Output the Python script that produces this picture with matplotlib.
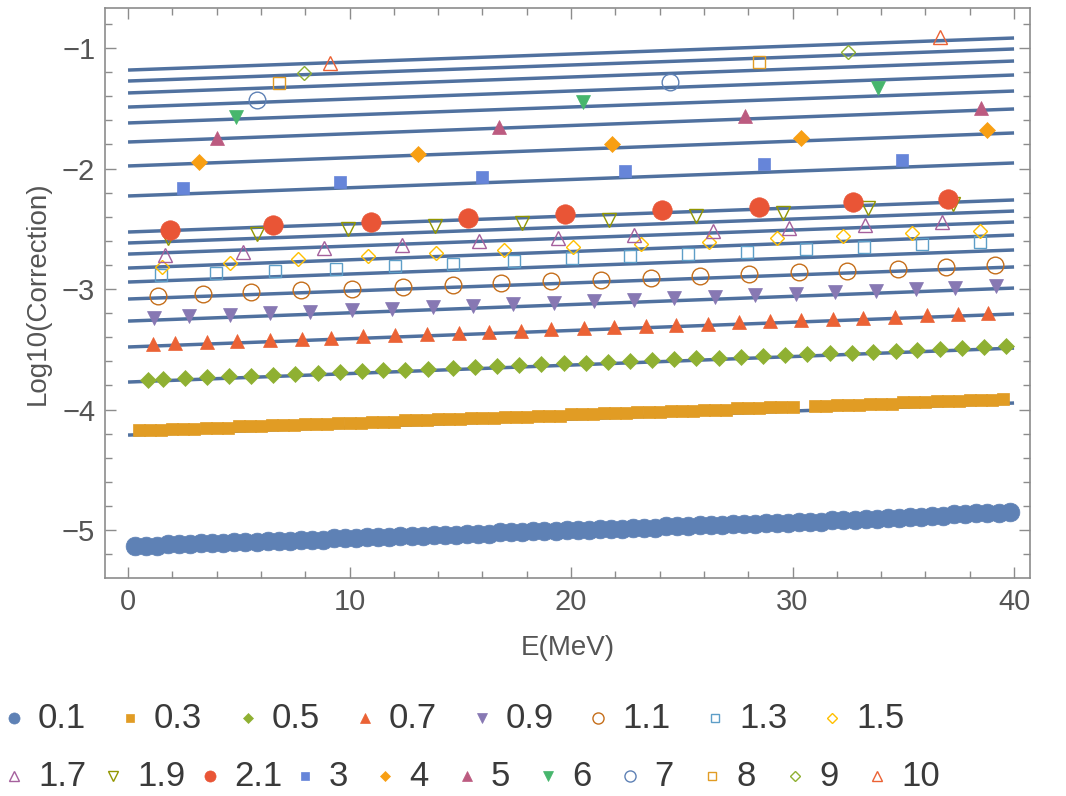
import matplotlib
matplotlib.use("Agg")
import matplotlib.pyplot as plt
from matplotlib.lines import Line2D
from matplotlib.ticker import MultipleLocator, FuncFormatter

plt.rcParams['font.family'] = ['Liberation Sans', 'DejaVu Sans']

# ---------------- data ----------------
labels = ["0.1", "0.3", "0.5", "0.7", "0.9", "1.1", "1.3", "1.5", "1.7", "1.9",
          "2.1", "3", "4", "5", "6", "7", "8", "9", "10"]

# fitted straight lines: value at E=0 and at E=40
fit_left = [-5.15, -4.212, -3.772, -3.481, -3.266, -3.083, -2.942, -2.826, -2.710,
            -2.618, -2.527, -2.228, -1.979, -1.780, -1.622, -1.490, -1.373, -1.274, -1.183]
fit_right = [-4.88, -3.946, -3.490, -3.207, -2.992, -2.817, -2.676, -2.552, -2.444,
             -2.353, -2.261, -1.954, -1.705, -1.506, -1.357, -1.224, -1.108, -1.008, -0.917]
fit_E = [0, 40]

x01 = [0.3, 0.8, 1.3, 1.8, 2.3, 2.8, 3.3, 3.8, 4.3, 4.8, 5.3, 5.8, 6.3, 6.8, 7.3, 7.8,
       8.3, 8.8, 9.3, 9.8, 10.3, 10.8, 11.3, 11.8, 12.3, 12.8, 13.3, 13.8, 14.3, 14.8,
       15.3, 15.8, 16.3, 16.8, 17.3, 17.8, 18.3, 18.8, 19.3, 19.8, 20.3, 20.8, 21.3, 21.8,
       22.3, 22.8, 23.3, 23.8, 24.3, 24.8, 25.3, 25.8, 26.3, 26.8, 27.3, 27.8, 28.3, 28.8,
       29.3, 29.8, 30.3, 30.8, 31.3, 31.8, 32.3, 32.8, 33.3, 33.8, 34.3, 34.8, 35.3, 35.8,
       36.3, 36.8, 37.3, 37.8, 38.3, 38.8, 39.3, 39.8]
y01 = [-5.13, -5.13, -5.13, -5.12, -5.12, -5.12, -5.11, -5.11, -5.11, -5.10, -5.10, -5.10,
       -5.09, -5.09, -5.09, -5.08, -5.08, -5.08, -5.07, -5.07, -5.07, -5.06, -5.06, -5.06,
       -5.05, -5.05, -5.05, -5.04, -5.04, -5.04, -5.03, -5.03, -5.03, -5.02, -5.02, -5.02,
       -5.01, -5.01, -5.01, -5.00, -5.00, -5.00, -4.99, -4.99, -4.99, -4.98, -4.98, -4.98,
       -4.97, -4.97, -4.97, -4.96, -4.96, -4.96, -4.95, -4.95, -4.95, -4.94, -4.94, -4.94,
       -4.93, -4.93, -4.93, -4.92, -4.92, -4.92, -4.91, -4.91, -4.90, -4.90, -4.89, -4.89,
       -4.88, -4.88, -4.87, -4.87, -4.86, -4.86, -4.86, -4.85]

x03 = [0.5, 1.0, 1.5, 2.0, 2.5, 3.0, 3.5, 4.0, 4.5, 5.0, 5.5, 6.0, 6.5, 7.0, 7.5, 8.0,
       8.5, 9.0, 9.5, 10.0, 10.5, 11.0, 11.5, 12.0, 12.5, 13.0, 13.5, 14.0, 14.5, 15.0,
       15.5, 16.0, 16.5, 17.0, 17.5, 18.0, 18.5, 19.0, 19.5, 20.0, 20.5, 21.0, 21.5, 22.0,
       22.5, 23.0, 23.5, 24.0, 24.5, 25.0, 25.5, 26.0, 26.5, 27.0, 27.5, 28.0, 28.5, 29.0,
       29.5, 30.0, 31.0, 31.5, 32.0, 32.5, 33.0, 33.5, 34.0, 34.5, 35.0, 35.5, 36.0,
       36.5, 37.0, 37.5, 38.0, 38.5, 39.0, 39.5]
y03 = [-4.17, -4.17, -4.17, -4.16, -4.16, -4.16, -4.15, -4.15, -4.15, -4.14, -4.14, -4.14,
       -4.13, -4.13, -4.13, -4.12, -4.12, -4.12, -4.11, -4.11, -4.11, -4.10, -4.10, -4.10,
       -4.09, -4.09, -4.09, -4.08, -4.08, -4.08, -4.07, -4.07, -4.07, -4.06, -4.06, -4.06,
       -4.05, -4.05, -4.05, -4.04, -4.04, -4.04, -4.03, -4.03, -4.03, -4.02, -4.02, -4.02,
       -4.01, -4.01, -4.01, -4.00, -4.00, -4.00, -3.99, -3.99, -3.99, -3.98, -3.98, -3.98,
       -3.97, -3.97, -3.96, -3.96, -3.96, -3.95, -3.95, -3.95, -3.94, -3.94, -3.94,
       -3.93, -3.93, -3.93, -3.92, -3.92, -3.92, -3.91]

x05 = [0.91, 1.56, 2.57, 3.55, 4.55, 5.57, 6.55, 7.55, 8.57, 9.55, 10.55, 11.53, 12.52,
       13.55, 14.65, 15.66, 16.65, 17.66, 18.66, 19.68, 20.66, 21.67, 22.66, 23.66, 24.67,
       25.66, 26.67, 27.69, 28.66, 29.67, 30.64, 31.67, 32.67, 33.65, 34.67, 35.64, 36.65,
       37.66, 38.65, 39.65]
y05 = [-3.751, -3.746, -3.739, -3.732, -3.725, -3.718, -3.711, -3.704, -3.697, -3.690,
       -3.683, -3.676, -3.669, -3.661, -3.654, -3.647, -3.640, -3.632, -3.625, -3.618,
       -3.611, -3.604, -3.597, -3.590, -3.583, -3.576, -3.569, -3.562, -3.555, -3.548,
       -3.541, -3.534, -3.527, -3.520, -3.513, -3.506, -3.499, -3.491, -3.485, -3.470]

x07 = [1.11, 2.12, 3.55, 4.94, 6.40, 7.86, 9.18, 10.63, 12.03, 13.48, 14.92, 16.31, 17.73,
       19.11, 20.59, 21.94, 23.39, 24.74, 26.18, 27.57, 28.99, 30.39, 31.82, 33.20, 34.63,
       36.05, 37.45, 38.83]
y07 = [-3.458, -3.451, -3.442, -3.432, -3.422, -3.412, -3.403, -3.393, -3.384, -3.374,
       -3.364, -3.354, -3.345, -3.335, -3.325, -3.316, -3.306, -3.297, -3.287, -3.277,
       -3.267, -3.258, -3.248, -3.239, -3.229, -3.219, -3.209, -3.200]

x09 = [1.18, 2.75, 4.59, 6.43, 8.20, 10.12, 11.92, 13.75, 15.59, 17.40, 19.23, 21.04,
       22.84, 24.67, 26.49, 28.32, 30.15, 31.92, 33.75, 35.59, 37.35, 39.20]
y09 = [-3.238, -3.227, -3.215, -3.202, -3.190, -3.177, -3.164, -3.152, -3.139, -3.127,
       -3.114, -3.102, -3.090, -3.077, -3.065, -3.052, -3.039, -3.027, -3.015, -3.002,
       -2.990, -2.977]

x11 = [1.36, 3.39, 5.57, 7.82, 10.10, 12.40, 14.65, 16.86, 19.11, 21.36, 23.59, 25.84,
       28.02, 30.27, 32.45, 34.74, 36.95, 39.13]
y11 = [-3.055, -3.041, -3.026, -3.011, -2.996, -2.981, -2.966, -2.951, -2.936, -2.921,
       -2.906, -2.891, -2.877, -2.862, -2.847, -2.832, -2.817, -2.803]

x13 = [1.49, 3.96, 6.65, 9.40, 12.03, 14.65, 17.43, 20.05, 22.66, 25.28, 27.94, 30.59,
       33.23, 35.86, 38.45]
y13 = [-2.884, -2.870, -2.852, -2.830, -2.812, -2.790, -2.766, -2.745, -2.725, -2.707,
       -2.690, -2.668, -2.650, -2.630, -2.610]

x15 = [1.53, 4.59, 7.67, 10.83, 13.91, 16.98, 20.10, 23.14, 26.22, 29.30, 32.30, 35.41, 38.45]
y15 = [-2.817, -2.784, -2.752, -2.728, -2.705, -2.676, -2.649, -2.629, -2.607, -2.579,
       -2.558, -2.538, -2.519]

x17 = [1.67, 5.20, 8.85, 12.39, 15.86, 19.41, 22.84, 26.41, 29.82, 33.27, 36.76]
y17 = [-2.720, -2.690, -2.662, -2.632, -2.605, -2.578, -2.551, -2.522, -2.497, -2.470, -2.443]

x19 = [1.80, 5.80, 9.92, 13.86, 17.80, 21.71, 25.66, 29.59, 33.42, 37.25]
y19 = [-2.575, -2.540, -2.505, -2.478, -2.452, -2.425, -2.398, -2.365, -2.330, -2.292]

x21 = [1.90, 6.55, 10.98, 15.33, 19.71, 24.11, 28.47, 32.75, 37.03]
y21 = [-2.510, -2.469, -2.442, -2.413, -2.378, -2.344, -2.317, -2.280, -2.253]

x3 = [2.49, 9.55, 15.99, 22.42, 28.69, 34.95]
y3 = [-2.164, -2.115, -2.068, -2.018, -1.963, -1.929]

x4 = [3.21, 13.11, 21.83, 30.39, 38.78]
y4 = [-1.949, -1.880, -1.799, -1.744, -1.680]

x5 = [4.02, 16.76, 27.84, 38.50]
y5 = [-1.749, -1.653, -1.564, -1.500]

x6 = [4.87, 20.55, 33.84]
y6 = [-1.570, -1.446, -1.334]

x7 = [5.84, 24.49]
y7 = [-1.432, -1.280]

x8 = [6.80, 28.47]
y8 = [-1.288, -1.114]

x9 = [7.94, 32.49]
y9 = [-1.205, -1.031]

x10 = [9.10, 36.65]
y10 = [-1.122, -0.911]

series_x = [x01, x03, x05, x07, x09, x11, x13, x15, x17, x19, x21, x3, x4, x5, x6, x7, x8, x9, x10]
series_y = [y01, y03, y05, y07, y09, y11, y13, y15, y17, y19, y21, y3, y4, y5, y6, y7, y8, y9, y10]

# ---------------- styles ----------------
colors = ["#5E81B5", "#E19C24", "#8FB032", "#EB6235", "#8778B3", "#C56E1A", "#5D9EC7",
          "#FFBF00", "#A5609D", "#929600", "#E95536", "#6685D9", "#F89F13", "#BC5B80",
          "#47B66D", "#5E81B5", "#E19C24", "#8FB032", "#EB6235"]
markers = ["o", "s", "D", "^", "v", "o", "s", "D", "^", "v",
           "o", "s", "D", "^", "v", "o", "s", "D", "^"]
filled = [True] * 5 + [False] * 5 + [True] * 5 + [False] * 4
msizes = [13.5, 9, 8.5, 10.5, 10.5, 12, 8, 7.5, 10, 10,
          14, 9, 8.5, 10.5, 10.5, 12, 8.5, 7.5, 10.5]
leg_sizes = {"o": 8, "s": 6, "D": 5.5, "^": 7.5, "v": 7.5}

# legend layout (pixel positions of swatches / labels, two rows)
leg_rows = [0] * 8 + [1] * 11
leg_row_y = [718, 776]
leg_marker_x = [14, 130, 248, 365, 482, 598, 715, 832,
                14, 113, 210, 305, 385, 467, 548, 630, 712, 795, 877]

frame_col = "#8c8c8c"
text_col = "#555555"
line_col = "#50719F"
W, H = 1066, 796

fig = plt.figure(figsize=(W / 100, H / 100), dpi=100)
ax = fig.add_axes([105 / W, 1 - 578 / H, 925 / W, 570 / H])

for fl, fr in zip(fit_left, fit_right):
    ax.plot(fit_E, [fl, fr], color=line_col, lw=2.5, zorder=1, solid_capstyle="butt")

for xs, ys, c, m, f, ms, lab, r, mx in zip(series_x, series_y, colors, markers, filled,
                                          msizes, labels, leg_rows, leg_marker_x):
    if f:
        kw = dict(markerfacecolor=c, markeredgecolor=c, markeredgewidth=0.5)
    else:
        kw = dict(markerfacecolor="none", markeredgecolor=c, markeredgewidth=1.0)
    ax.plot(xs, ys, linestyle="none", marker=m, markersize=ms, zorder=3, **kw)
    # legend entry
    fy = 1 - leg_row_y[r] / H
    fig.add_artist(Line2D([mx / W], [fy], transform=fig.transFigure, linestyle="none",
                          marker=m, markersize=leg_sizes[m], **kw))
    fig.text((mx + 24) / W, fy, lab, fontsize=25, color="#3a3a3a",
             ha="left", va="center")

ax.set_xlim(-1.04, 40.72)
ax.set_ylim(-5.398, -0.668)
ax.xaxis.set_major_locator(MultipleLocator(10))
ax.xaxis.set_minor_locator(MultipleLocator(2))
ax.yaxis.set_major_locator(MultipleLocator(1))
ax.yaxis.set_minor_locator(MultipleLocator(0.2))
ax.tick_params(which="both", direction="in", top=True, right=True, color=frame_col,
               labelcolor=text_col, labelsize=21, width=1)
ax.tick_params(which="major", length=8, pad=7)
ax.tick_params(which="minor", length=5)
ax.yaxis.set_major_formatter(FuncFormatter(lambda v, p: "\u2212%d" % abs(round(v))))
for sp in ax.spines.values():
    sp.set_color(frame_col)
    sp.set_linewidth(1.2)

ax.set_xlabel("E(MeV)", fontsize=20, color=text_col, labelpad=14)
ax.set_ylabel("Log10(Correction)", fontsize=20, color=text_col, labelpad=8)

fig.savefig("out.png", dpi=100)
